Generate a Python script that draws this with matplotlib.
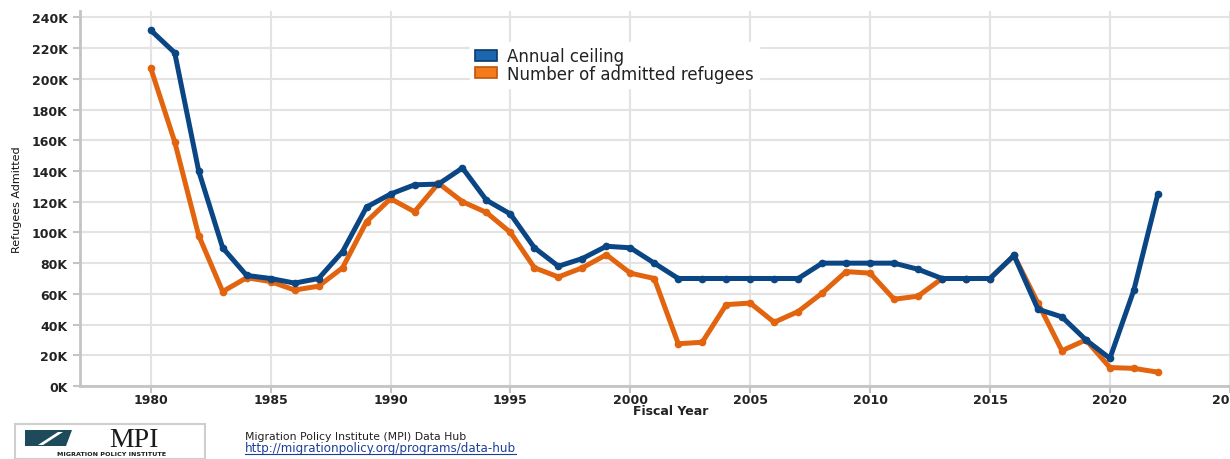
import matplotlib
matplotlib.use("Agg")
import matplotlib.pyplot as plt
from matplotlib.patches import Patch, Rectangle, Polygon
from matplotlib.ticker import FuncFormatter, MultipleLocator

years = list(range(1980, 2023))
ceiling_k = [231.7, 217, 140, 90, 72, 70, 67, 70, 87.5, 116.5,
             125, 131, 131.5, 142, 121, 112, 90, 78, 83, 91,
             90, 80, 70, 70, 70, 70, 70, 70, 80, 80,
             80, 80, 76, 70, 70, 70, 85, 50, 45, 30,
             18, 62.5, 125]
admitted_k = [207, 159, 98, 61.5, 70.5, 68, 62.5, 65, 77, 107,
              122, 113.5, 132, 120, 113, 100, 77, 71, 77, 85.5,
              73.5, 70, 27.5, 28.5, 53, 54, 41.5, 48.5, 60.5, 74.5,
              73.5, 56.5, 58.5, 70, 70, 70, 85, 54, 23, 30,
              12, 11.5, 9]
series_names = ["Annual ceiling", "Number of admitted refugees"]
x_label = "Fiscal Year"
y_label = "Refugees Admitted"
source_title = "Migration Policy Institute (MPI) Data Hub"
source_url = "http://migrationpolicy.org/programs/data-hub"

ceiling = [v * 1000 for v in ceiling_k]
admitted = [v * 1000 for v in admitted_k]

W, H = 1230, 460
fig = plt.figure(figsize=(W / 100, H / 100), dpi=100)
fig.patch.set_facecolor("white")
ax = fig.add_axes([80 / W, 1 - 387 / H, (1231 - 80) / W, (387 - 12) / H])

blue = "#0b4684"
orange = "#e2640f"

ax.plot(years, admitted, color=orange, lw=3.6, marker="o", ms=4.5,
        solid_capstyle="round", solid_joinstyle="round", zorder=3)
ax.plot(years, ceiling, color=blue, lw=3.6, marker="o", ms=4.5,
        solid_capstyle="round", solid_joinstyle="round", zorder=4)

ax.set_xlim(1977.05, 2025.05)
ax.set_ylim(0, 244200)
ax.xaxis.set_major_locator(MultipleLocator(5))
ax.yaxis.set_major_locator(MultipleLocator(20000))
ax.yaxis.set_major_formatter(FuncFormatter(lambda v, p: f"{v/1000:.0f}K"))

ax.grid(True, color="#e3e3e3", lw=1.5, zorder=0)
ax.set_axisbelow(True)
for s in ["top", "right"]:
    ax.spines[s].set_visible(False)
for s in ["left", "bottom"]:
    ax.spines[s].set_color("#c4c4c4")
    ax.spines[s].set_linewidth(2)

ax.tick_params(axis="both", colors="#c4c4c4", labelcolor="#222222",
               labelsize=9, length=5, width=1.5)
for lab in ax.get_xticklabels() + ax.get_yticklabels():
    lab.set_fontweight("bold")
ax.tick_params(axis="x", pad=0)
ax.tick_params(axis="y", pad=4)

fig.text(671 / W, 1 - 411.5 / H, x_label, ha="center", va="center",
         fontsize=9, fontweight="bold", color="#222222")
fig.text(17 / W, 1 - 200 / H, y_label, ha="center", va="center",
         rotation=90, fontsize=8, color="#111111")

handles = [Patch(facecolor="#1b66ad", edgecolor="#0b3a6c", lw=1.2),
           Patch(facecolor="#f57a1a", edgecolor="#c0550c", lw=1.2)]
leg = fig.legend(handles, series_names, loc="upper left",
                 bbox_to_anchor=(462 / W, 1 - 35 / H),
                 frameon=True, fancybox=False, framealpha=1,
                 edgecolor="white", facecolor="white",
                 fontsize=12, handlelength=1.3, handleheight=0.6,
                 handletextpad=0.6, labelspacing=-0.05, borderpad=0.3)
for t in leg.get_texts():
    t.set_color("#222222")

# Footer: logo block
fig.patches.append(Rectangle((15 / W, 0), 190 / W, 35 / H, transform=fig.transFigure,
                             facecolor="white", edgecolor="#cfcfcf", lw=1.5))
fig.patches.append(Polygon([(25 / W, 1 - 431 / H), (72 / W, 1 - 431 / H),
                            (66 / W, 1 - 447 / H), (25 / W, 1 - 447 / H)],
                           closed=True, transform=fig.transFigure,
                           facecolor="#1d4b5c", edgecolor="none"))
fig.patches.append(Polygon([(38 / W, 1 - 446 / H), (58 / W, 1 - 433 / H),
                            (63 / W, 1 - 433 / H), (43 / W, 1 - 446 / H)],
                           closed=True, transform=fig.transFigure,
                           facecolor="white", edgecolor="none"))
fig.text(134 / W, 1 - 447 / H, "MPI", ha="center", va="baseline",
         fontsize=20, family="Liberation Serif", color="#1a1a1a")
fig.text(112 / W, 1 - 454.5 / H, "MIGRATION POLICY INSTITUTE", ha="center", va="center",
         fontsize=4.6, fontweight="bold", color="#1a1a1a")

fig.text(245 / W, 1 - 437 / H, source_title, ha="left", va="center",
         fontsize=7.8, color="#222222")
url = fig.text(245 / W, 1 - 449 / H, source_url, ha="left", va="center",
               fontsize=8.6, color="#1a3f9a")
fig.canvas.draw()
bb = url.get_window_extent()
fig.lines.append(plt.Line2D([bb.x0 / W, bb.x1 / W], [1 - 455 / H, 1 - 455 / H],
                            transform=fig.transFigure, color="#1a3f9a", lw=0.8))

fig.savefig("out.png", dpi=100, facecolor="white")
